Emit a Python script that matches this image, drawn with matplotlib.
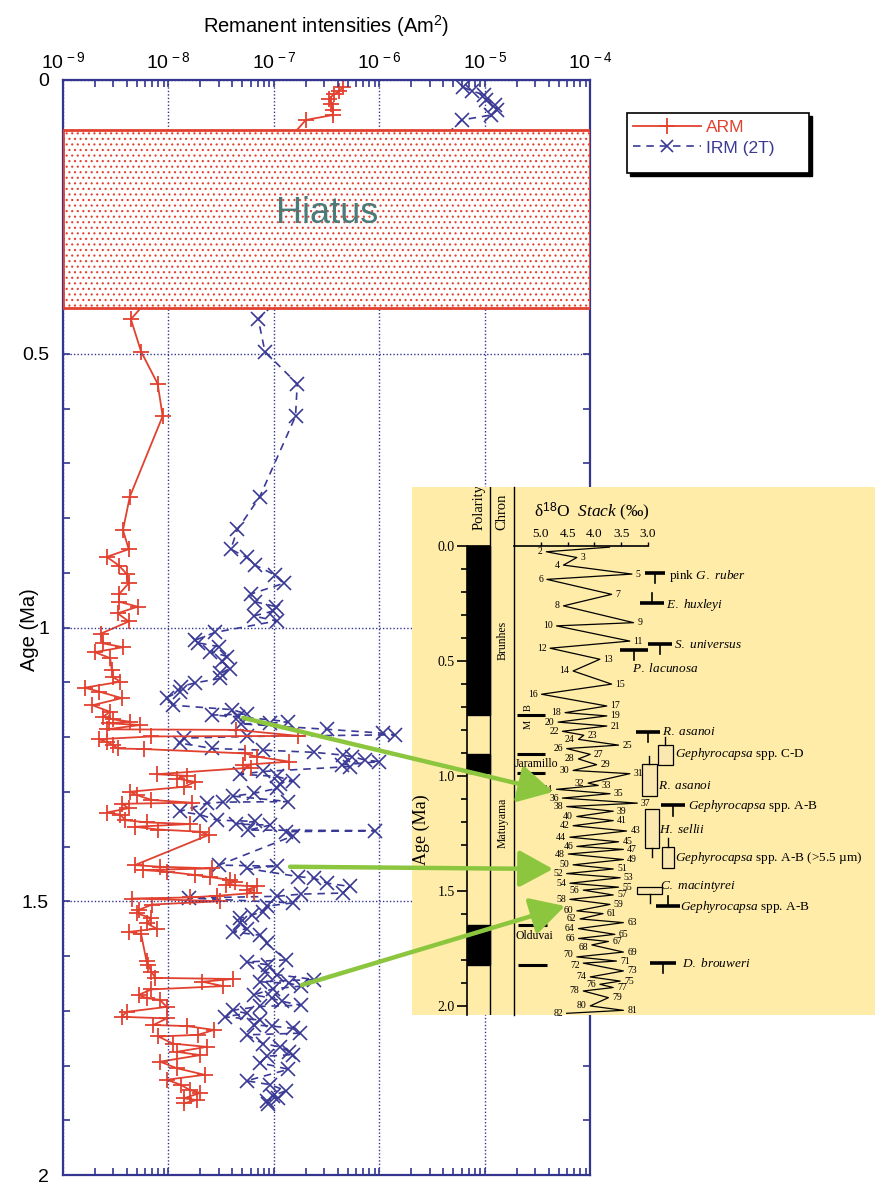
import numpy as np
import matplotlib
matplotlib.use("Agg")
import matplotlib.pyplot as plt
from matplotlib.patches import Rectangle, ConnectionPatch
from matplotlib.lines import Line2D
from matplotlib.ticker import FixedLocator, LogLocator, NullFormatter
import matplotlib.transforms as mtransforms

plt.rcParams['font.family'] = ['Liberation Sans', 'DejaVu Sans']
plt.rcParams['mathtext.fontset'] = 'custom'
plt.rcParams['mathtext.rm'] = 'Liberation Sans'
plt.rcParams['mathtext.it'] = 'Liberation Serif:italic'
plt.rcParams['mathtext.bf'] = 'Liberation Sans:bold'
plt.rcParams['hatch.linewidth'] = 0.8

# ---------------- data: remanent intensities ----------------
arm_age = [0.013, 0.021, 0.026, 0.035, 0.043, 0.054, 0.064, 0.073,
           0.437, 0.496, 0.555, 0.614, 0.761, 0.822, 0.857, 0.871, 0.887, 0.902,
           0.919, 0.939, 0.953, 0.962, 0.974, 0.989, 1.011, 1.029, 1.036, 1.045,
           1.056, 1.078, 1.091, 1.099, 1.110, 1.117, 1.129, 1.142, 1.154, 1.163,
           1.168, 1.172, 1.175, 1.178, 1.186, 1.187, 1.198, 1.199, 1.204, 1.209,
           1.215, 1.221, 1.222, 1.230, 1.236, 1.245, 1.251, 1.256, 1.268, 1.271,
           1.276, 1.282, 1.291, 1.300, 1.306, 1.315, 1.320, 1.322, 1.330, 1.338,
           1.342, 1.352, 1.356, 1.359, 1.364, 1.369, 1.373, 1.379, 1.434, 1.437,
           1.440, 1.443, 1.446, 1.452, 1.456, 1.461, 1.464, 1.470, 1.473, 1.479,
           1.485, 1.490, 1.493, 1.495, 1.500, 1.506, 1.516, 1.522, 1.531, 1.540,
           1.550, 1.556, 1.560, 1.610, 1.616, 1.629, 1.640, 1.642, 1.647, 1.655,
           1.661, 1.671, 1.677, 1.680, 1.693, 1.702, 1.711, 1.714, 1.726, 1.728,
           1.735, 1.744, 1.747, 1.760, 1.766, 1.775, 1.781, 1.793, 1.805, 1.817,
           1.826, 1.835, 1.845, 1.850, 1.860, 1.863, 1.869]
arm_val = [4.5e-7, 4.1e-7, 3.7e-7, 3.3e-7, 3.5e-7, 3.6e-7, 3.6e-7, 2.0e-7,
           4.4e-9, 5.5e-9, 7.9e-9, 8.8e-9, 4.3e-9, 3.7e-9, 4.2e-9, 2.6e-9, 3.4e-9, 4.0e-9,
           4.2e-9, 3.4e-9, 3.4e-9, 5.1e-9, 3.3e-9, 4.2e-9, 2.3e-9, 2.4e-9, 3.7e-9, 2.0e-9,
           2.8e-9, 2.9e-9, 3.0e-9, 3.5e-9, 1.6e-9, 2.2e-9, 3.6e-9, 1.9e-9, 2.8e-9, 2.4e-9,
           3.0e-9, 4.3e-9, 2.7e-9, 5.4e-9, 2.6e-9, 4.4e-8, 1.7e-7, 6.9e-9, 2.2e-9, 2.6e-9,
           3.0e-9, 3.3e-9, 5.8e-9, 5.3e-8, 6.9e-8, 1.4e-7, 5.1e-8, 6.0e-8, 7.7e-9, 1.5e-8,
           1.2e-8, 1.8e-8, 1.4e-8, 4.3e-9, 5.0e-9, 6.9e-9, 1.66e-8, 3.6e-9, 4.2e-9, 2.6e-9,
           3.5e-9, 3.9e-9, 6.3e-9, 1.6e-8, 4.8e-9, 8.0e-9, 2.0e-8, 2.4e-8, 4.8e-9, 8.3e-9,
           2.6e-8, 5.7e-9, 9.6e-9, 1.8e-8, 2.5e-8, 3.8e-8, 4.3e-8, 3.5e-8, 6.9e-8, 5.5e-8,
           6.4e-8, 2.9e-8, 1.6e-8, 4.5e-9, 3.1e-8, 7.0e-9, 5.2e-9, 5.0e-9, 6.9e-9, 6.2e-9,
           7.7e-9, 4.2e-9, 5.5e-9, 6.2e-9, 6.4e-9, 6.9e-9, 7.5e-9, 4.1e-8, 2.1e-8, 3.3e-8,
           6.9e-9, 5.2e-9, 6.2e-9, 8.3e-9, 9.6e-9, 4.0e-9, 3.6e-9, 9.6e-9, 7.2e-9, 1.5e-8,
           2.7e-8, 1.9e-8, 8.0e-9, 1.1e-8, 2.3e-8, 1.2e-8, 2.0e-8, 8.3e-9, 1.2e-8, 2.2e-8,
           9.6e-9, 1.3e-8, 1.6e-8, 2.0e-8, 1.4e-8, 1.85e-8, 1.4e-8]

irm_age = [0.013, 0.020, 0.027, 0.037, 0.046, 0.055, 0.064, 0.073,
           0.437, 0.496, 0.555, 0.614, 0.762, 0.821, 0.857, 0.872, 0.886, 0.904,
           0.919, 0.939, 0.953, 0.962, 0.970, 0.979, 0.988, 1.009, 1.023, 1.028,
           1.035, 1.044, 1.053, 1.062, 1.075, 1.084, 1.093, 1.101, 1.108, 1.117,
           1.128, 1.142, 1.150, 1.158, 1.160, 1.163, 1.172, 1.175, 1.176, 1.186,
           1.193, 1.196, 1.199, 1.202, 1.211, 1.221, 1.224, 1.228, 1.233, 1.236,
           1.242, 1.245, 1.251, 1.254, 1.263, 1.268, 1.272, 1.280, 1.285, 1.294,
           1.303, 1.308, 1.318, 1.319, 1.321, 1.336, 1.342, 1.352, 1.354, 1.359,
           1.361, 1.370, 1.371, 1.373, 1.381, 1.434, 1.436, 1.440, 1.455, 1.458,
           1.467, 1.473, 1.485, 1.487, 1.491, 1.494, 1.503, 1.509, 1.519, 1.525,
           1.531, 1.540, 1.550, 1.556, 1.562, 1.577, 1.607, 1.611, 1.616, 1.629,
           1.634, 1.643, 1.647, 1.650, 1.655, 1.660, 1.671, 1.677, 1.683, 1.690,
           1.692, 1.699, 1.705, 1.711, 1.717, 1.726, 1.728, 1.732, 1.741, 1.744,
           1.760, 1.766, 1.775, 1.780, 1.783, 1.795, 1.807, 1.828, 1.835, 1.846,
           1.855, 1.860, 1.864, 1.870]
irm_val = [6.2e-6, 7.5e-6, 9.8e-6, 1.03e-5, 1.25e-5, 1.3e-5, 1.15e-5, 6.0e-6,
           7.1e-8, 8.2e-8, 1.66e-7, 1.6e-7, 7.3e-8, 4.5e-8, 3.9e-8, 5.5e-8, 6.6e-8, 1.02e-7,
           1.25e-7, 6.0e-8, 6.6e-8, 1.05e-7, 9.8e-8, 6.4e-8, 1.06e-7, 2.75e-8, 1.8e-8, 1.9e-8,
           3.0e-8, 2.5e-8, 3.6e-8, 3.2e-8, 3.8e-8, 3.1e-8, 3.1e-8, 1.8e-8, 1.3e-8, 1.28e-8,
           9.6e-9, 1.1e-8, 4.0e-8, 5.5e-8, 2.6e-8, 4.6e-8, 1.37e-7, 9.2e-8, 4.9e-8, 3.2e-7,
           1.07e-6, 1.4e-6, 5.5e-8, 1.4e-8, 1.28e-8, 2.6e-8, 7.9e-8, 2.4e-7, 4.5e-7, 5.5e-7,
           7.3e-7, 1.0e-6, 4.4e-7, 5.2e-7, 7.9e-8, 4.8e-8, 1.06e-7, 1.5e-7, 1.14e-7, 1.06e-7,
           6.4e-8, 4.1e-8, 1.37e-7, 3.3e-8, 2.3e-8, 1.28e-8, 2.0e-8, 2.9e-8, 6.6e-8, 4.4e-8,
           9.2e-8, 5.7e-8, 9.1e-7, 1.3e-7, 1.5e-7, 3.0e-8, 1.06e-7, 5.5e-8, 1.7e-7, 2.4e-7,
           3.2e-7, 5.2e-7, 4.5e-7, 1.8e-7, 1.06e-7, 1.55e-8, 1.5e-7, 8.5e-8, 7.9e-8, 6.2e-8,
           4.8e-8, 4.8e-8, 5.5e-8, 4.1e-8, 7.4e-8, 8.5e-8, 1.3e-7, 5.5e-8, 8.8e-8, 8.2e-8,
           1.06e-7, 2.4e-7, 7.4e-8, 1.4e-7, 1.8e-7, 9.8e-8, 6.4e-8, 9.5e-8, 1.2e-7, 1.8e-7,
           7.4e-8, 4.1e-8, 5.5e-8, 3.4e-8, 7.4e-8, 6.4e-8, 9.5e-8, 1.5e-7, 1.75e-7, 5.5e-8,
           7.9e-8, 1.14e-7, 1.4e-7, 1.5e-7, 8.5e-8, 7.4e-8, 1.37e-7, 5.5e-8, 9.2e-8, 1.3e-7,
           9.8e-8, 1.1e-7, 8.5e-8, 8.8e-8]

hiatus_top, hiatus_base = 0.0913, 0.4164
x_ticks = [1e-9, 1e-8, 1e-7, 1e-6, 1e-5, 1e-4]
x_labels = [r"10$^{\,-9}$", r"10$^{\,-8}$", r"10$^{\,-7}$", r"10$^{\,-6}$", r"10$^{\,-5}$", r"10$^{\,-4}$"]
y_ticks = [0, 0.5, 1, 1.5, 2]
y_labels = ["0", "0.5", "1", "1.5", "2"]

# ---------------- data: inset (delta18O stack, polarity) ----------------
stage_num = list(range(1, 83))
stage_age = [0.005, 0.025, 0.050, 0.083, 0.122, 0.145, 0.210, 0.260, 0.333, 0.347,
             0.413, 0.444, 0.492, 0.543, 0.600, 0.644, 0.695, 0.724, 0.738, 0.765,
             0.782, 0.805, 0.822, 0.840, 0.865, 0.880, 0.905, 0.925, 0.950, 0.975,
             0.989, 1.030, 1.040, 1.057, 1.076, 1.095, 1.117, 1.132, 1.152, 1.175,
             1.193, 1.215, 1.238, 1.265, 1.285, 1.305, 1.318, 1.338, 1.362, 1.385,
             1.403, 1.423, 1.441, 1.465, 1.482, 1.495, 1.516, 1.535, 1.557, 1.585,
             1.597, 1.620, 1.636, 1.662, 1.687, 1.705, 1.718, 1.733, 1.764, 1.785,
             1.803, 1.812, 1.846, 1.872, 1.890, 1.904, 1.918, 1.933, 1.962, 1.998,
             2.017, 2.030]
stage_d18o = [3.72, 4.90, 4.33, 4.58, 3.30, 4.89, 3.68, 4.58, 3.27, 4.71,
              3.34, 4.83, 3.90, 4.40, 3.68, 4.99, 3.77, 4.55, 3.77, 4.68,
              3.77, 4.60, 4.20, 4.30, 3.55, 4.52, 4.08, 4.30, 3.96, 4.40,
              3.34, 4.12, 3.93, 4.71, 3.71, 4.60, 3.20, 4.52, 3.65, 4.33,
              3.65, 4.40, 3.40, 4.46, 3.55, 4.33, 3.46, 4.49, 3.46, 4.40,
              3.65, 4.52, 3.52, 4.46, 3.55, 4.21, 3.65, 4.46, 3.71, 4.33,
              3.84, 4.27, 3.46, 4.30, 3.62, 4.30, 3.74, 4.05, 3.46, 4.33,
              3.59, 4.21, 3.46, 4.08, 3.52, 3.90, 3.65, 4.21, 3.74, 4.08,
              3.46, 4.52]
normal_top = [0.0, 0.905, 1.648]
normal_base = [0.735, 0.987, 1.822]
d18o_ticks = [5.0, 4.5, 4.0, 3.5, 3.0]

RED = '#e2412f'
BLUE = '#3a3a96'
NAVY = '#34358f'
GREEN = '#8cc63f'
YELLOW = '#ffeca8'
SERIF = ['Liberation Serif', 'DejaVu Serif']

W, H = 878, 1184
fig = plt.figure(figsize=(W / 100, H / 100), dpi=100)


def fx(px):
    return px / W


def fy(py):
    return 1 - py / H


# ---------------- main axes ----------------
ax = fig.add_axes([fx(63), fy(1175), fx(590.5) - fx(63), fy(80) - fy(1175)])
ax.set_xscale('log')
ax.set_xlim(1e-9, 1e-4)
ax.set_ylim(2, 0)

ax.plot(irm_val, irm_age, color=BLUE, ls=(0, (4.5, 3.5)), lw=1.2, marker='x',
        ms=10, mew=1.2, zorder=2)
ax.plot(arm_val, arm_age, color=RED, ls='-', lw=1.3, marker='+',
        ms=12, mew=1.3, zorder=2.1)

trans = mtransforms.blended_transform_factory(ax.transAxes, ax.transData)
ax.add_patch(Rectangle((0, hiatus_top), 1, hiatus_base - hiatus_top, transform=trans,
                       facecolor='white', edgecolor=RED, hatch='...', lw=2, zorder=3))
ax.text(0.5, (hiatus_top + hiatus_base) / 2 - 0.01, 'Hiatus', transform=trans,
        ha='center', va='center', fontsize=26, color='#4a7b78', zorder=10)

ax.xaxis.tick_top()
ax.xaxis.set_major_locator(FixedLocator(x_ticks))
ax.set_xticklabels(x_labels)
ax.xaxis.set_minor_locator(LogLocator(base=10, subs=np.arange(2, 10)))
ax.xaxis.set_minor_formatter(NullFormatter())
ax.set_yticks(y_ticks)
ax.set_yticklabels(y_labels)
ax.yaxis.set_minor_locator(FixedLocator(np.arange(0, 2.01, 0.1)))
ax.tick_params(axis='x', which='both', direction='in', top=True, bottom=True,
               labeltop=True, labelbottom=False, length=5, width=1.2, color=NAVY,
               labelsize=14, pad=5)
ax.tick_params(axis='y', which='both', direction='in', left=True, right=True,
               length=5, width=1.2, color=NAVY, labelsize=14, pad=10)
for s in ax.spines.values():
    s.set_color(NAVY)
    s.set_linewidth(1.6)
ax.grid(True, which='major', ls=(0, (1, 1.5)), color=NAVY, lw=1.0)
ax.set_axisbelow(False)

fig.text(fx(326), fy(26), r"Remanent intensities (Am$^{2}$)", ha='center', va='center',
         fontsize=14.5)
fig.text(fx(30), fy(630), "Age (Ma)", ha='center', va='center', rotation=90, fontsize=14.5)

# legend: box with solid shadow, entries drawn by the legend machinery
fig.patches.append(Rectangle((fx(630), fy(176)), fx(812) - fx(630), fy(116) - fy(176),
                             transform=fig.transFigure, facecolor='black', edgecolor='black',
                             zorder=1))
fig.patches.append(Rectangle((fx(627), fy(173)), fx(809) - fx(627), fy(113) - fy(173),
                             transform=fig.transFigure, facecolor='white', edgecolor='black',
                             lw=1.2, zorder=1.1))
handles = [Line2D([], [], color=RED, lw=1.3, marker='+', ms=12, mew=1.3),
           Line2D([], [], color=BLUE, ls=(0, (4.5, 3.5)), lw=1.2, marker='x', ms=8, mew=1.2)]
leg = fig.legend(handles, ['ARM', 'IRM (2T)'], loc='upper left',
                 bbox_to_anchor=(fx(633), fy(120)), frameon=False,
                 fontsize=12.5, handlelength=3.9, handletextpad=0.3,
                 borderpad=0, labelspacing=0.3, borderaxespad=0)
for t, c in zip(leg.get_texts(), [RED, BLUE]):
    t.set_color(c)

# ---------------- inset ----------------
IY0, IY1 = 487, 1015
A0 = 546.0
AS = 230.2


def age_of(py):
    return (py - A0) / AS


axin = fig.add_axes([fx(412), fy(IY1), fx(875) - fx(412), fy(IY0) - fy(IY1)], zorder=5)
axin.set_facecolor(YELLOW)
axin.set_xticks([])
axin.set_yticks([])
for s in axin.spines.values():
    s.set_visible(False)
axin.text((421 - 412) / 463, 1 - (830 - IY0) / (IY1 - IY0), 'Age (Ma)', transform=axin.transAxes,
          rotation=90, ha='center', va='center', fontsize=13, family=SERIF)

# polarity / chron columns
axp = fig.add_axes([fx(467), fy(IY1), fx(514) - fx(467), fy(IY0) - fy(IY1)], zorder=6)
axp.patch.set_alpha(0)
axp.set_xlim(0, 2)
axp.set_ylim(age_of(IY1), age_of(IY0))
axp.set_xticks([])
for side in ['top', 'bottom']:
    axp.spines[side].set_visible(False)
axp.spines['left'].set_bounds(0, age_of(IY1))
axp.spines['left'].set_linewidth(1.2)
axp.spines['right'].set_linewidth(1.0)
axp.axvline(1, color='black', lw=1.0)
axp.set_yticks(np.arange(0, 2.01, 0.5))
axp.set_yticklabels(['0.0', '0.5', '1.0', '1.5', '2.0'], family=SERIF)
axp.yaxis.set_minor_locator(FixedLocator(np.arange(0, 2.01, 0.1)))
axp.tick_params(axis='y', which='major', direction='out', length=7, width=1.2, labelsize=10, pad=2)
axp.tick_params(axis='y', which='minor', direction='out', length=4.5, width=1.2)
axp.barh([(t + b) / 2 for t, b in zip(normal_top, normal_base)],
         1, height=[b - t for t, b in zip(normal_top, normal_base)], left=0,
         color='black', edgecolor='black', lw=1)
axp.plot([0, 1], [0, 0], color='black', lw=1.2)
axp.text(0.5, age_of(530), 'Polarity', rotation=90, ha='center', va='bottom', fontsize=10.5,
         family=SERIF, clip_on=True)
axp.text(1.5, age_of(530), 'Chron', rotation=90, ha='center', va='bottom', fontsize=10.5,
         family=SERIF, clip_on=True)
axp.text(1.5, 0.41, 'Brunhes', rotation=90, ha='center', va='center', fontsize=8.5, family=SERIF)
axp.text(1.5, 1.204, 'Matuyama', rotation=90, ha='center', va='center', fontsize=8.5, family=SERIF)

# delta18O axes
D0 = 5.0
DS = 53.5


def dpx(px):
    return D0 - (px - 541) / DS


axd = fig.add_axes([fx(514), fy(IY1), fx(875) - fx(514), fy(A0) - fy(IY1)], zorder=6)
axd.patch.set_alpha(0)
axd.set_xlim(dpx(514), dpx(875))
axd.set_ylim(age_of(IY1), 0)
axd.set_yticks([])
for side in ['bottom', 'left', 'right']:
    axd.spines[side].set_visible(False)
axd.spines['top'].set_bounds(dpx(514), 3.0)
axd.spines['top'].set_linewidth(1.2)
axd.xaxis.tick_top()
axd.set_xticks(d18o_ticks)
axd.set_xticklabels(['%.1f' % v for v in d18o_ticks], family=SERIF)
axd.tick_params(axis='x', direction='out', length=3, width=1, labelsize=9.5, pad=1.5)
axd.text(4.05, age_of(512), "δ$^{18}$O  $\\mathit{Stack}$ (‰)", ha='center', va='center',
         fontsize=12.5, family=SERIF, clip_on=False)

axd.plot(stage_d18o, stage_age, color='black', lw=0.9, clip_on=False)
label_shift = {68: 0.012, 70: -0.009, 72: 0.009}
for n, a, d in zip(stage_num, stage_age, stage_d18o):
    if n == 1:
        continue
    dy = label_shift.get(n, 0.0)
    if n % 2 == 0:
        axd.text(d + 0.07, a + dy, str(n), ha='right', va='center', fontsize=7, family=SERIF)
    else:
        axd.text(d - 0.07, a + dy, str(n), ha='left', va='center', fontsize=7, family=SERIF)


def hbar(x0, x1, age, lw=2.2):
    axd.plot([dpx(x0), dpx(x1)], [age, age], color='black', lw=lw, solid_capstyle='butt',
             clip_on=False)


# chron sub-events
hbar(517, 545, normal_base[0])
axd.text(dpx(528), 0.70, 'B', rotation=90, ha='center', va='center', fontsize=7.5, family=SERIF)
axd.text(dpx(528), 0.775, 'M', rotation=90, ha='center', va='center', fontsize=7.5, family=SERIF)
hbar(517, 545, normal_top[1])
hbar(517, 545, normal_base[1])
axd.text(dpx(515), (normal_top[1] + normal_base[1]) / 2, 'Jaramillo', ha='left', va='center',
         fontsize=8.5, family=SERIF)
hbar(518, 547, normal_top[2])
hbar(518, 547, normal_base[2])
axd.text(dpx(516), (normal_top[2] + normal_base[2]) / 2 - 0.04, 'Olduvai', ha='left', va='center',
         fontsize=8.5, family=SERIF)

# biostratigraphic events
event_age = [0.117, 0.248, 0.426, 0.452, 0.807, 0.865, 0.948, 1.126, 1.143, 1.309,
             1.483, 1.564, 1.812]


def tee(xc, age, half, stem):
    hbar(xc - half, xc + half, age, lw=2.6)
    axd.plot([dpx(xc), dpx(xc)], [age, age + stem], color='black', lw=1.2)


def box(x0, x1, a0, a1, tick=None):
    axd.add_patch(Rectangle((dpx(x0), a0), dpx(x1) - dpx(x0), a1 - a0, facecolor='#fbe7b0',
                            edgecolor='black', lw=0.9))
    if tick is not None:
        xc = (x0 + x1) / 2
        base = a0 if tick < 0 else a1
        axd.plot([dpx(xc), dpx(xc)], [base, base + tick], color='black', lw=1.0)


def lab(px, age, s, size=9.5):
    axd.text(dpx(px), age, s, ha='left', va='center', fontsize=size, family=SERIF)


tee(655, event_age[0], 10, 0.045)
lab(669, event_age[0] + 0.015, r"pink $\mathit{G.\ ruber}$")
tee(652, event_age[1], 12, -0.045)
lab(666, event_age[1] + 0.01, r"$\mathit{E.\ huxleyi}$")
tee(660, event_age[2], 12, 0.045)
lab(674, event_age[2] + 0.005, r"$\mathit{S.\ universus}$")
tee(634, event_age[3], 14, 0.045)
lab(632, event_age[3] + 0.08, r"$\mathit{P.\ lacunosa}$")
tee(648, event_age[4], 12, 0.045)
lab(662, event_age[4] + 0.002, r"$\mathit{R.\ asanoi}$")
box(658, 673, event_age[5], 0.952, tick=-0.035)
lab(675, 0.905, r"$\mathit{Gephyrocapsa}$ spp. C-D")
box(642, 657, event_age[6], 1.087, tick=-0.035)
lab(658, 1.043, r"$\mathit{R.\ asanoi}$")
tee(673, event_age[7], 12, 0.045)
lab(688, event_age[7] + 0.003, r"$\mathit{Gephyrocapsa}$ spp. A-B")
box(645, 659, event_age[8], 1.313, tick=0.04)
lab(659, 1.232, r"$\mathit{H.\ sellii}$")
box(662, 674, event_age[9], 1.40, tick=-0.04)
lab(675, 1.355, r"$\mathit{Gephyrocapsa}$ spp. A-B (>5.5 µm)")
box(637, 662, event_age[10], 1.513, tick=None)
axd.plot([dpx(650), dpx(650)], [1.513, 1.55], color='black', lw=1.0)
lab(660, 1.478, r"$\mathit{C.\ macintyrei}$")
tee(668, event_age[11], 12, -0.045)
lab(680, event_age[11] + 0.003, r"$\mathit{Gephyrocapsa}$ spp. A-B")
tee(663, event_age[12], 13, 0.045)
lab(682, event_age[12], r"$\mathit{D.\ brouweri}$")

# green arrows from data to inset
arrow_src = [(5.1e-8, 1.165), (1.42e-7, 1.437), (1.84e-7, 1.653)]
arrow_dst = [(dpx(553), age_of(792)), (dpx(553), age_of(869)), (dpx(565), age_of(906))]
for (sv, sa), (dv, da) in zip(arrow_src, arrow_dst):
    cp = ConnectionPatch(xyA=(sv, sa), coordsA='data', axesA=ax,
                         xyB=(dv, da), coordsB='data', axesB=axd,
                         arrowstyle='-|>,head_length=0.55,head_width=0.3',
                         mutation_scale=38, lw=3.2, color=GREEN, zorder=20)
    fig.add_artist(cp)

fig.savefig('out.png', dpi=100)
